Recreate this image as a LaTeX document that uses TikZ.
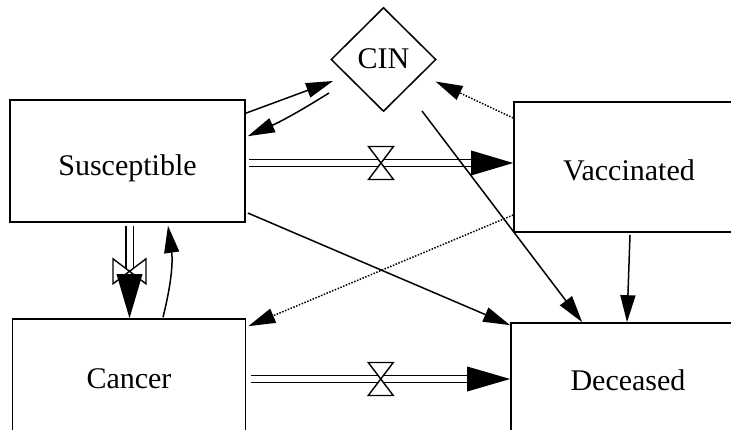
\documentclass[tikz,border=0pt]{standalone}
\usepackage{fontspec}
\setmainfont{Liberation Serif}
\usetikzlibrary{arrows.meta,shapes.geometric,calc}
\begin{document}
\begin{tikzpicture}[x=1pt,y=-1pt,
  stock/.style={draw, line width=1.6pt, rectangle, inner sep=0pt, text depth=0pt, font=\fontsize{30}{34}\selectfont},
  aux/.style={draw, line width=1.5pt, diamond, inner sep=0pt, text depth=0pt, font=\fontsize{30}{34}\selectfont},
  link/.style={line width=1.5pt, -{Triangle[length=27pt,width=15pt]}},
  dotlink/.style={link, dash pattern=on 1.5pt off 1.5pt},
  pipe/.style={double, double distance=6pt, line width=1.3pt},
  valve/.style={draw, fill=white, line width=1.4pt, line join=miter}]
\useasboundingbox (0,0) rectangle (731,430);
\clip (0,0) rectangle (731,430);

% stocks
\node[stock, minimum width=235pt, minimum height=122pt, text height=29pt] (sus) at (127.5,161) {Susceptible};
\node[stock, minimum width=230pt, minimum height=130pt, text height=28pt] (vac) at (629,167) {Vaccinated};
\node[stock, minimum width=234pt, minimum height=122pt, text height=12pt] (dec) at (628,384) {Deceased};
\node[stock, minimum width=233pt, minimum height=122pt, text height=17pt] (can) at (129,380) {Cancer};
\node[aux, minimum width=105pt, minimum height=104pt, text height=19pt] (cin) at (383.5,59.5) {CIN};

% flow Susceptible -> Vaccinated
\coordinate (f1s) at ($(sus.east)+(3,2)$);
\coordinate (f1e) at (vac.west |- f1s);
\draw[pipe] (f1s) -- ($(f1e)+(-35,0)$);
\coordinate (v1) at ($(f1s)!0.5!(f1e)$);
\draw[valve] ($(v1)+(-12.5,-16.5)$) -- ++(25,0) -- ++(-25,33) -- ++(25,0) -- cycle;
\fill (f1e) -- ++(-42,-12.5) -- ++(0,25) -- cycle;

% flow Cancer -> Deceased
\coordinate (f3s) at ($(can.east)+(5,-1)$);
\coordinate (f3e) at (dec.west |- f3s);
\draw[pipe] (f3s) -- ($(f3e)+(-35,0)$);
\coordinate (v3) at ($(f3s)!0.5!(f3e)$);
\draw[valve] ($(v3)+(-12.5,-16.5)$) -- ++(25,0) -- ++(-25,33) -- ++(25,0) -- cycle;
\fill (f3e) -- ++(-43,-12.5) -- ++(0,25) -- cycle;

% flow Susceptible -> Cancer
\coordinate (f2s) at ($(sus.south)+(2,3)$);
\coordinate (f2e) at (f2s |- can.north);
\draw[pipe] (f2s) -- ($(f2e)+(0,-38)$);
\coordinate (v2) at ($(f2s)+(0,45.5)$);
\draw[valve] ($(v2)+(-16.5,-12.5)$) -- ++(33,25) -- ++(0,-25) -- ++(-33,25) -- cycle;
\fill (f2e) -- ++(-13,-44) -- ++(26,0) -- cycle;

% links
\draw[link] ($(sus.north east)+(0,14)$) -- ($(cin.center)+(-50.5,21.5)$);
\draw[link] ($(cin.center)+(-54.5,33.5)$) to[bend left=4] ($(sus.north east)+(2,37)$);
\draw[dotlink] ($(vac.west)+(0,-49)$) -- ($(cin.center)+(52,22)$);
\draw[link] ($(cin.center)+(38.5,51.5)$) -- ($(dec.north west)+(72,0)$);
\draw[link] ($(vac.south)+(1,2)$) -- ($(dec.north)+(-1,0)$);
\draw[link] ($(sus.east)+(2,52)$) -- ($(dec.north west)+(0,3)$);
\draw[dotlink] ($(vac.west)+(0,48)$) -- ($(can.north east)+(2,8)$);
\draw[link] ($(can.north)+(34,-1)$) to[bend right=11] ($(sus.south)+(40.5,3)$);
\end{tikzpicture}
\end{document}
